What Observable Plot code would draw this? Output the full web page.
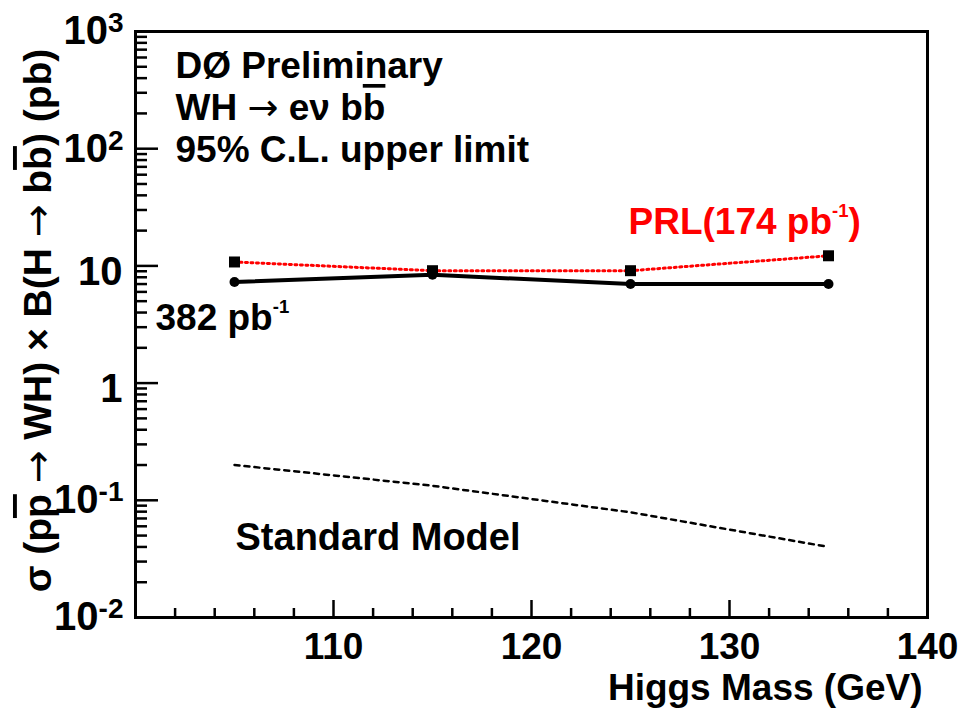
<!DOCTYPE html>
<html><head><meta charset="utf-8">
<script src="https://cdn.jsdelivr.net/npm/d3@7"></script>
<script src="https://cdn.jsdelivr.net/npm/@observablehq/plot@0.6"></script>
<style>
html,body{margin:0;padding:0;background:#fff;}
#chart svg{display:block;}
</style>
</head><body><div id="chart"></div>
<script>
// ---- data ----
const massPoints = [105, 115, 125, 135];               // Higgs mass (GeV)
const limit382 = [7.3, 8.4, 7.0, 7.0];                // 382 pb^-1 limit (pb)
const limitPRL174 = [10.8, 9.1, 9.1, 12.2];           // PRL 174 pb^-1 limit (pb)
const standardModel = [0.20, 0.133, 0.079, 0.040];    // SM expectation (pb)

// ---- ticks and labels ----
const yMajorTicks = [0.01, 0.1, 1, 10, 100, 1000];
const yMinorTicks = [0.01, 0.1, 1, 10, 100].flatMap(d => [2,3,4,5,6,7,8,9].map(k => +(d * k).toPrecision(3)));
const yExpTicks = [0.01, 0.1, 100, 1000];
const yExpLabels = ["10^{-2}", "10^{-1}", "10^{2}", "10^{3}"];
const yPlainTicks = [1, 10];
const yPlainLabels = ["1", "10"];
const xMajorTicks = [110, 120, 130];
const xMinorTicks = [102,104,106,108,112,114,116,118,122,124,126,128,132,134,136,138];
const xLabelTicks = [110, 120, 130, 140];

const titleLines = ["DØ Preliminary", "WH → eν b~{b}", "95% C.L. upper limit"];
const yTitle = "σ (p~{p} → WH) × B(H → b~{b}) (pb)";
const xTitle = "Higgs Mass (GeV)";
const label382 = "382 pb^{-1}";
const labelPRL = "PRL(174 pb^{-1})";
const labelSM = "Standard Model";

const FONT = "'Liberation Sans', Arial, Helvetica, sans-serif";
const rows = massPoints.map((m, i) => ({mass: m, obs: limit382[i], prl: limitPRL174[i], sm: standardModel[i]}));

const chart = Plot.plot({
  width: 973, height: 720,
  marginLeft: 135, marginRight: 46, marginTop: 31, marginBottom: 103,
  style: {fontFamily: FONT, background: "white", color: "black", overflow: "visible"},
  x: {domain: [100, 140]},
  y: {type: "log", domain: [0.01, 1000]},
  marks: [
    Plot.axisY(yMinorTicks, {anchor: "left", tickSize: -12, strokeWidth: 2.5, fill: "none", label: null}),
    Plot.axisY(yMajorTicks, {anchor: "left", tickSize: -23, strokeWidth: 2.5, fill: "none", label: null}),
    Plot.axisY(yExpTicks, {anchor: "left", tickSize: 0, tickPadding: 12, tickFormat: d => yExpLabels[yExpTicks.indexOf(d)], fontSize: 40, fontWeight: "bold", label: null}),
    Plot.axisY(yPlainTicks, {anchor: "left", tickSize: 0, tickPadding: 13, dy: 6, tickFormat: d => yPlainLabels[yPlainTicks.indexOf(d)], fontSize: 40, fontWeight: "bold", label: null}),
    Plot.axisX(xMinorTicks, {anchor: "bottom", tickSize: -9, strokeWidth: 2.5, fill: "none", label: null}),
    Plot.axisX(xMajorTicks, {anchor: "bottom", tickSize: -17, strokeWidth: 2.5, fill: "none", label: null}),
    Plot.axisX(xLabelTicks, {anchor: "bottom", tickSize: 0, tickPadding: 15, tickFormat: d => String(d), fontSize: 37, fontWeight: "bold", label: null}),
    Plot.frame({stroke: "black", strokeWidth: 3}),
    Plot.line(rows, {x: "mass", y: "sm", stroke: "black", strokeWidth: 2.5, strokeDasharray: "5,5"}),
    Plot.line(rows, {x: "mass", y: "prl", stroke: "#ff0000", strokeWidth: 3, strokeDasharray: "2,3.5"}),
    Plot.line(rows, {x: "mass", y: "obs", stroke: "black", strokeWidth: 4}),
    Plot.dot(rows, {x: "mass", y: "obs", r: 5, fill: "black"}),
    Plot.dot(rows, {x: "mass", y: "prl", r: 6.2, symbol: "square", fill: "black"}),
    Plot.text([titleLines.join("\n")], {text: d => d, frameAnchor: "top-left", textAnchor: "start", lineAnchor: "top", lineHeight: 1.13, dx: 40, dy: 17, fontSize: 37, fontWeight: "bold", fill: "black"}),
    Plot.text([label382], {text: d => d, frameAnchor: "top-left", textAnchor: "start", lineAnchor: "middle", dx: 20, dy: 287, fontSize: 37, fontWeight: "bold", fill: "black"}),
    Plot.text([labelPRL], {text: d => d, frameAnchor: "top-left", textAnchor: "start", lineAnchor: "middle", dx: 493, dy: 191, fontSize: 37, fontWeight: "bold", fill: "#ff0000"}),
    Plot.text([labelSM], {text: d => d, frameAnchor: "top-left", textAnchor: "start", lineAnchor: "middle", dx: 100, dy: 506, fontSize: 38, fontWeight: "bold", fill: "black"}),
    Plot.text([xTitle], {text: d => d, frameAnchor: "bottom-right", textAnchor: "end", lineAnchor: "middle", dx: -5, dy: 71, fontSize: 37, fontWeight: "bold", fill: "black"}),
    Plot.text([yTitle], {text: d => d, frameAnchor: "left", textAnchor: "middle", lineAnchor: "middle", rotate: -90, dx: -97, dy: -4, fontSize: 39, fontWeight: "bold", fill: "black"})
  ]
});
document.getElementById("chart").appendChild(chart);

// Render ^{...} as superscript, ~{...} as overline, and → with a long thin arrow glyph
function richify(root) {
  const NS = "http://www.w3.org/2000/svg";
  const leaves = [...root.querySelectorAll("text, tspan")].filter(el => el.children.length === 0 && /[\^~]\{|→/.test(el.textContent));
  for (const el of leaves) {
    const isTick = !!el.closest('g[aria-label*="tick label"]');
    const supSize = isTick ? 0.7 : 0.5;
    const raise = isTick ? 0.3 : 0.48;
    const fs = parseFloat(getComputedStyle(el).fontSize);
    const src = el.textContent;
    el.textContent = "";
    const parts = src.split(/(\^\{[^}]*\}|~\{[^}]*\}|→)/).filter(s => s.length);
    let up = false;
    for (const p of parts) {
      const t = document.createElementNS(NS, "tspan");
      if (p.startsWith("^{")) {
        t.textContent = p.slice(2, -1);
        t.setAttribute("font-size", fs * supSize);
        t.setAttribute("dy", -fs * raise);
        up = true;
      } else {
        if (p.startsWith("~{")) { t.textContent = p.slice(2, -1); t.style.textDecoration = "overline"; }
        else if (p === "→") { t.textContent = p; t.setAttribute("font-family", "'DejaVu Sans'"); t.setAttribute("font-weight", "normal"); }
        else t.textContent = p;
        if (up) { t.setAttribute("dy", fs * raise); up = false; }
      }
      el.appendChild(t);
    }
  }
}
richify(chart);
</script>
</body></html>
